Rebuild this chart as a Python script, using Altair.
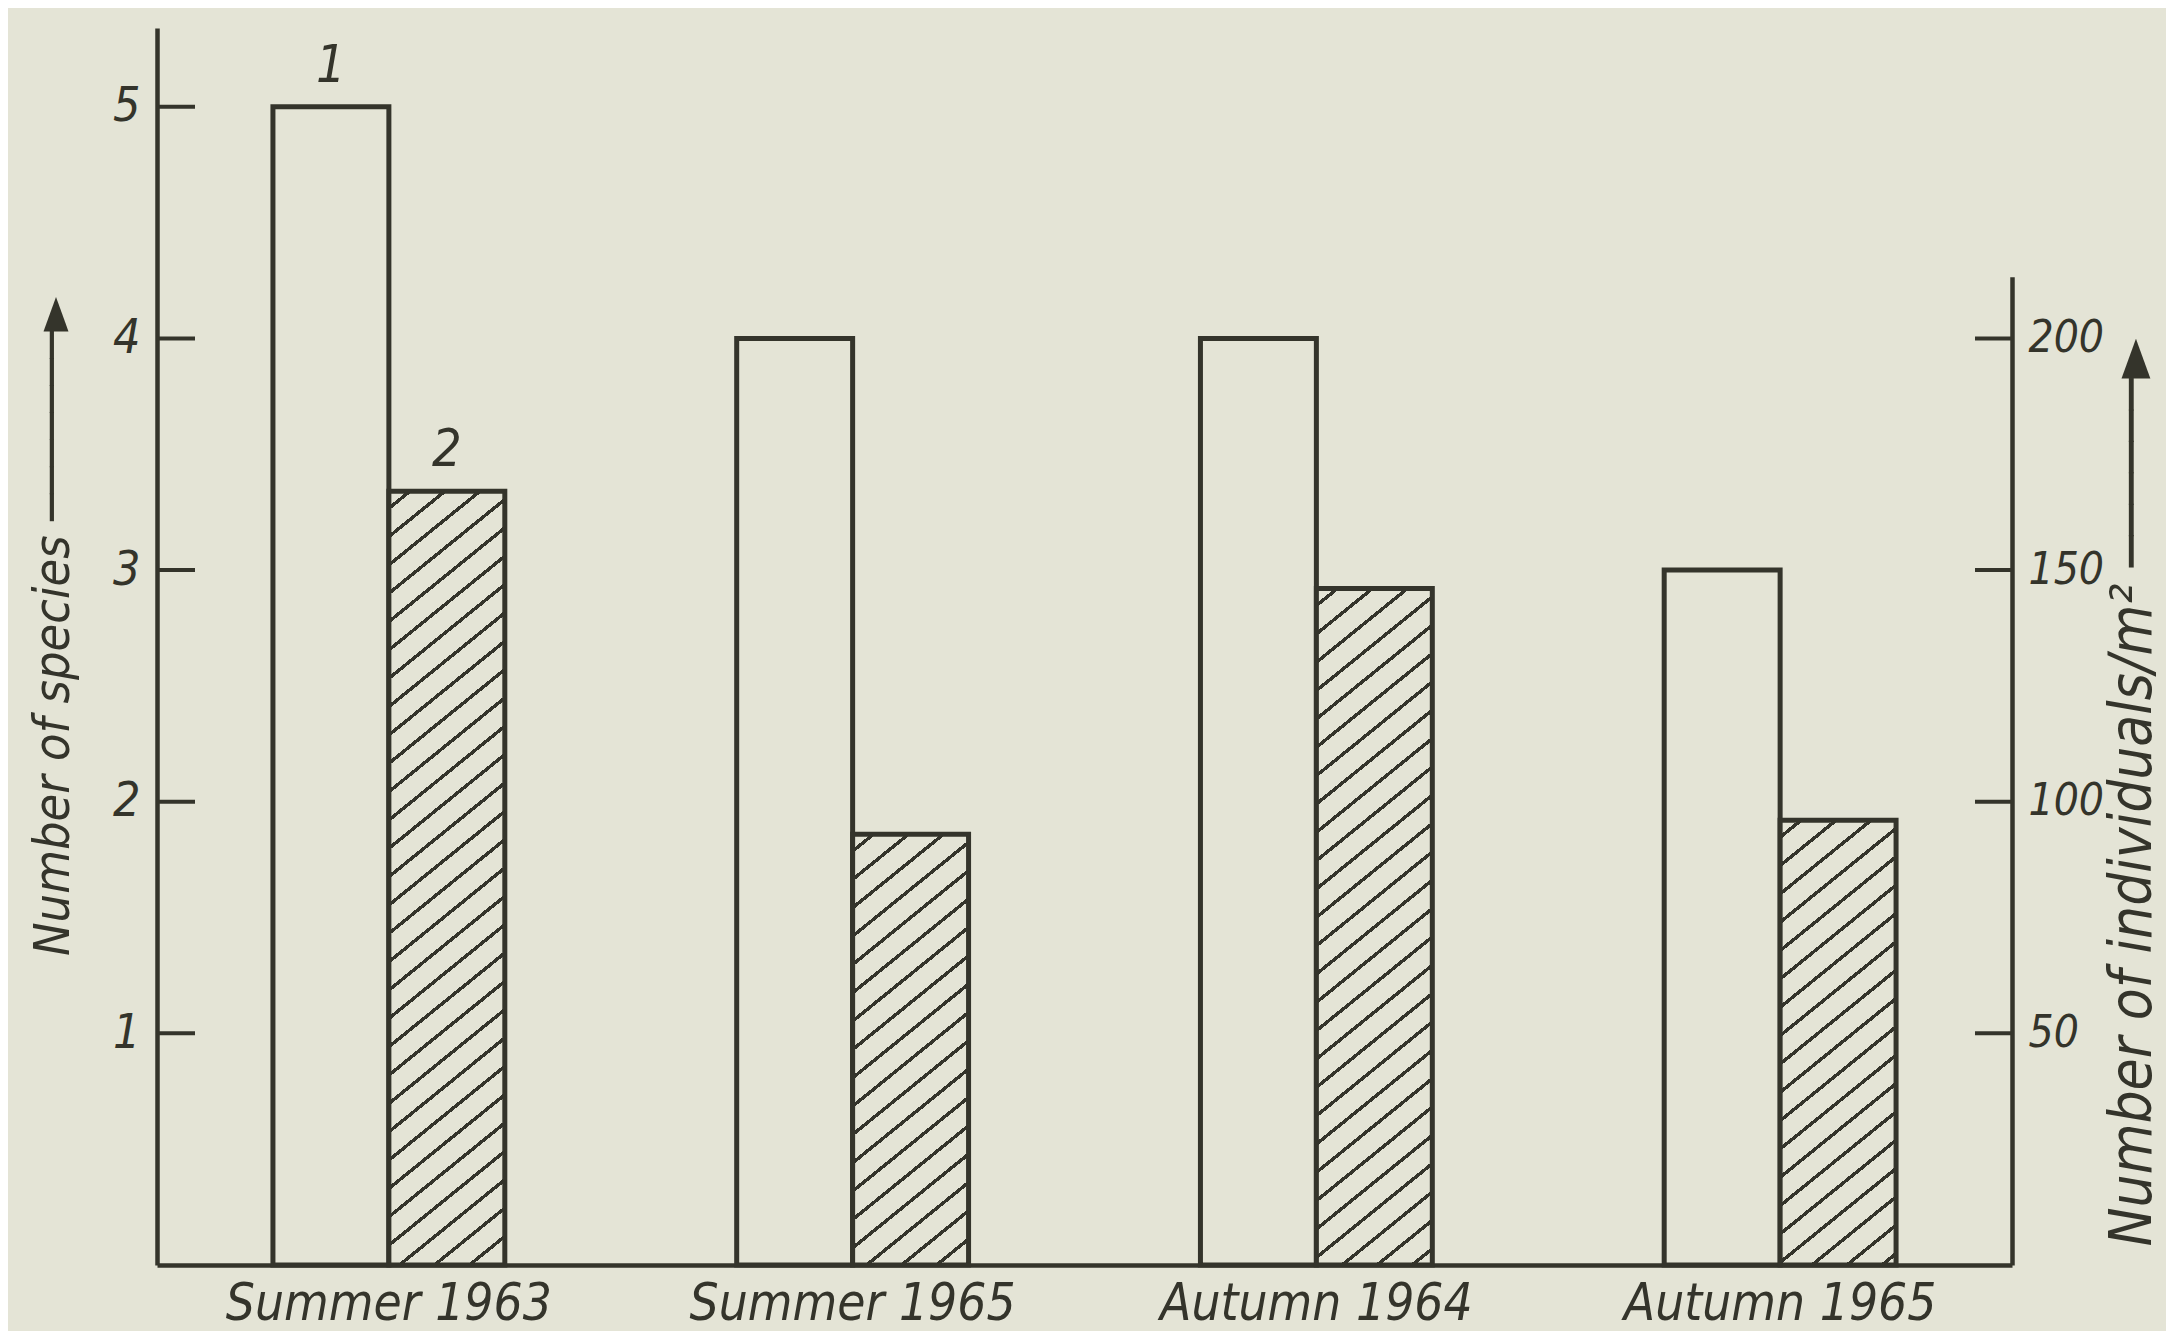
import math
import altair as alt
import pandas as pd

# ---------------- data ----------------
categories = ["Summer 1963", "Summer 1965", "Autumn 1964", "Autumn 1965"]
species = [5, 4, 4, 3]                     # series 1 (open bars, left axis)
individuals = [167, 93, 146, 96]           # series 2 (hatched bars, right axis)
series_names = ["1", "2"]
species_ticks = [1, 2, 3, 4, 5]
individual_ticks = [50, 100, 150, 200]

# ---------------- styling ----------------
BG = "#e4e4d6"
INK = "#34342b"
FONT = "DejaVu Sans Condensed, DejaVu Sans, sans-serif"

W, H = 1855, 1237
LEFT_MAX = 5.34                 # top of left axis line
PX_PER_SPECIES = H / LEFT_MAX
RIGHT_MAX = 213.3               # top of right axis line
RIGHT_TOP = H - RIGHT_MAX / 50.0 * PX_PER_SPECIES
BAR_W = W / 16.0                # width of one bar (band 0.5 of step, two bars per band)

yL = alt.Scale(domain=[0, LEFT_MAX], nice=False, zero=True)
yR = alt.Scale(domain=[0, RIGHT_MAX], range=[H, RIGHT_TOP], nice=False, zero=True)

xscale = alt.Scale(domain=categories, paddingInner=0.5, paddingOuter=0.25)
xoff = alt.XOffset("series:N", scale=alt.Scale(domain=series_names, paddingInner=0, paddingOuter=0))

df1 = pd.DataFrame({"cat": categories, "series": "1", "value": species})
df2 = pd.DataFrame({"cat": categories, "series": "2", "value": individuals})

ARROW_L = " " + "\u2500" * 7 + "\u25ba"
ARROW_R = " " + "\u2500" * 6 + "\u25ba"

x_axis = alt.Axis(orient="bottom", ticks=False, tickSize=0, labelAngle=0,
                  labelFont=FONT, labelFontSize=51, labelFontStyle="italic",
                  labelColor=INK, labelPadding=54, labelBaseline="alphabetic",
                  labelLimit=0, domainColor=INK, domainWidth=4.5, grid=False, title=None)

left_axis = alt.Axis(orient="left", values=species_ticks, ticks=False, tickSize=0,
                     labelPadding=17, labelFont=FONT, labelFontSize=48,
                     labelFontStyle="italic", labelColor=INK, labelFlush=False,
                     domainColor=INK, domainWidth=4.5, grid=False,
                     title="Number of species" + ARROW_L,
                     titleFont=FONT, titleFontSize=50, titleFontStyle="italic",
                     titleFontWeight="normal", titleColor=INK, titleAngle=270,
                     titleX=-104, titleY=598, titleBaseline="middle", titleAlign="center")

right_axis = alt.Axis(orient="right", values=individual_ticks, ticks=False, tickSize=0,
                      labelPadding=16, labelFont=FONT, labelFontSize=44,
                      labelFontStyle="italic", labelColor=INK, labelFlush=False,
                      domainColor=INK, domainWidth=4.5, grid=False,
                      title="Number of individuals/m\u00b2" + ARROW_R,
                      titleFont=FONT, titleFontSize=58, titleFontStyle="italic",
                      titleFontWeight="normal", titleColor=INK, titleAngle=270,
                      titleX=121, titleY=764, titleBaseline="middle", titleAlign="center")

X = alt.X("cat:N", scale=xscale, sort=categories, axis=x_axis)

# open bars (number of species)
open_bars = alt.Chart(df1).mark_bar(fill=BG, stroke=INK, strokeWidth=5).encode(
    x=X, xOffset=xoff, y=alt.Y("value:Q", scale=yL, axis=left_axis)
)


def hatch(value):
    """diagonal hatch drawn as a linear gradient in the bar's bounding box"""
    w = BAR_W
    h = value / 50.0 * PX_PER_SPECIES
    th = math.radians(39)
    s_, c_ = math.sin(th), math.cos(th)
    N = w * s_ + h * c_
    k = N / (w * h * (s_ ** 2 / h ** 2 + c_ ** 2 / w ** 2))
    a, b = k * s_ / h, k * c_ / w
    period = 35 * s_
    half = 1.7
    stops = [{"offset": 0, "color": BG}]
    n = period * 0.6
    while n < N:
        t0 = max(0.0, (n - half) / N)
        t1 = min(1.0, (n + half) / N)
        stops += [{"offset": t0, "color": BG}, {"offset": t0, "color": INK},
                  {"offset": t1, "color": INK}, {"offset": t1, "color": BG}]
        n += period
    stops.append({"offset": 1, "color": BG})
    return {"gradient": "linear", "x1": 0, "y1": 0, "x2": a, "y2": b, "stops": stops}


layers = [open_bars]
for i, (c, v) in enumerate(zip(categories, individuals)):
    layers.append(
        alt.Chart(df2).transform_filter(alt.datum.cat == c)
        .mark_bar(fill=hatch(v), stroke=INK, strokeWidth=5)
        .encode(x=X, xOffset=xoff,
                y=alt.Y("value:Q", scale=yR, axis=right_axis if i == 0 else None))
    )

# inward tick marks
lt = alt.Chart(pd.DataFrame({"t": species_ticks})).mark_rule(stroke=INK, strokeWidth=4).encode(
    y=alt.Y("t:Q", scale=yL, axis=None), x=alt.value(0), x2=alt.value(38))
rt = alt.Chart(pd.DataFrame({"t": individual_ticks})).mark_rule(stroke=INK, strokeWidth=4).encode(
    y=alt.Y("t:Q", scale=yR, axis=None), x=alt.value(W - 37), x2=alt.value(W))
layers += [lt, rt]

# series labels 1 and 2 above the first group
lab1 = alt.Chart(df1).transform_filter(alt.datum.cat == categories[0]).mark_text(
    baseline="bottom", dy=-14, font=FONT, fontSize=52, fontStyle="italic", color=INK
).encode(x=X, xOffset=xoff, y=alt.Y("value:Q", scale=yL, axis=None), text="series:N")
lab2 = alt.Chart(df2).transform_filter(alt.datum.cat == categories[0]).mark_text(
    baseline="bottom", dy=-14, font=FONT, fontSize=52, fontStyle="italic", color=INK
).encode(x=X, xOffset=xoff, y=alt.Y("value:Q", scale=yR, axis=None), text="series:N")
layers += [lab1, lab2]

chart = alt.layer(*layers).resolve_scale(y="independent").properties(
    width=W, height=H,
    background=BG,
    autosize=alt.AutoSizeParams(type="none"),
    padding={"left": 149, "top": 20, "right": 154, "bottom": 66},
).configure_view(stroke=None)

chart.save("out.html", embed_options={"renderer": "svg", "actions": False})
